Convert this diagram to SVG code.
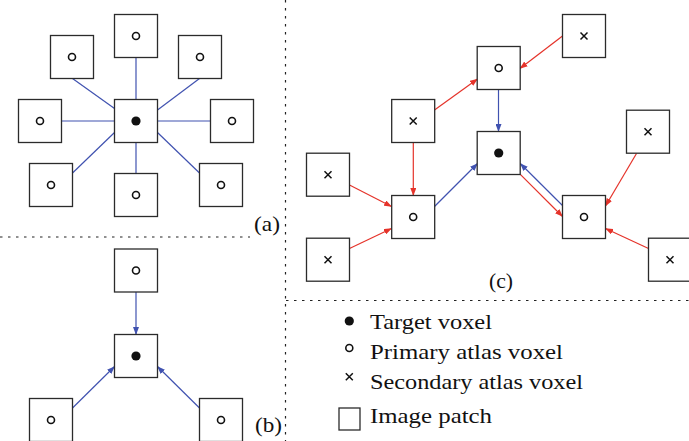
<svg xmlns="http://www.w3.org/2000/svg" width="689" height="441" viewBox="0 0 689 441">
<style>
.box{fill:#fff;stroke:#2b2b2b;stroke-width:1.3}
.oc{fill:#fff;stroke:#111;stroke-width:1.6}
.fd{fill:#111}
.xm{stroke:#111;stroke-width:1.5;fill:none}
.b{stroke:#4052b0;stroke-width:1.2;fill:none}
.r{stroke:#e5332a;stroke-width:1.2;fill:none}
.ba{stroke:#4052b0;stroke-width:1.2;fill:none;marker-end:url(#ab)}
.ra{stroke:#e5332a;stroke-width:1.2;fill:none;marker-end:url(#ar)}
.dot{stroke:#222;stroke-width:1.2;stroke-dasharray:2.5 5.5;fill:none}
.lbl{font-family:"Liberation Serif","DejaVu Serif",serif;font-size:21px;fill:#111}
.leg{font-family:"Liberation Serif","DejaVu Serif",serif;font-size:22px;fill:#111}
</style>
<defs>
<marker id="ab" markerUnits="userSpaceOnUse" markerWidth="8" markerHeight="6" refX="7.5" refY="3" orient="auto"><path d="M0,0 L8,3 L0,6 z" fill="#4052b0"/></marker>
<marker id="ar" markerUnits="userSpaceOnUse" markerWidth="8" markerHeight="6" refX="7.5" refY="3" orient="auto"><path d="M0,0 L8,3 L0,6 z" fill="#e5332a"/></marker>
<g id="pbox"><rect class="box" x="-21.5" y="-21.5" width="43" height="43"/><circle class="oc" cx="0" cy="0" r="3.5"/></g>
<g id="tbox"><rect class="box" x="-21.5" y="-21.5" width="43" height="43"/><circle class="fd" cx="0" cy="0" r="4.6"/></g>
<g id="sbox"><rect class="box" x="-21.5" y="-21.5" width="43" height="43"/><path class="xm" d="M-3.5,-3.5 L3.5,3.5 M-3.5,3.5 L3.5,-3.5"/></g>
</defs>
<rect width="689" height="441" fill="#fff"/>

<!-- separators -->
<g id="separators">
<line class="dot" x1="285.5" y1="0" x2="285.5" y2="441"/>
<line class="dot" x1="0" y1="237" x2="250" y2="237"/>
<line class="dot" x1="286" y1="300.5" x2="689" y2="300.5"/>
</g>

<!-- connectors -->
<g id="connectors">
<!-- (a) -->
<line class="b" x1="136" y1="57.5" x2="136" y2="99.5"/>
<line class="b" x1="72.5" y1="78.5" x2="114.5" y2="108.5"/>
<line class="b" x1="199.5" y1="78.5" x2="157.5" y2="110"/>
<line class="b" x1="61" y1="121" x2="114.5" y2="121"/>
<line class="b" x1="157.5" y1="121" x2="210.5" y2="121"/>
<line class="b" x1="72" y1="173.5" x2="114.5" y2="132.5"/>
<line class="b" x1="136" y1="142.5" x2="136" y2="173.5"/>
<line class="b" x1="200" y1="173.5" x2="157.5" y2="132.5"/>
<!-- (b) -->
<line class="ba" x1="136" y1="291.5" x2="136" y2="334.5"/>
<line class="ba" x1="72" y1="408.5" x2="114.5" y2="366.5"/>
<line class="ba" x1="200" y1="408.5" x2="157.5" y2="366.5"/>
<!-- (c) -->
<line class="ra" x1="562.5" y1="36" x2="520" y2="68.5"/>
<line class="ra" x1="434.5" y1="110" x2="477.5" y2="79"/>
<line class="ba" x1="498.5" y1="89.5" x2="498.5" y2="131.5"/>
<line class="ra" x1="413.3" y1="142.5" x2="413.3" y2="195.5"/>
<line class="ra" x1="349.5" y1="185" x2="391.5" y2="206.5"/>
<line class="ra" x1="349.5" y1="248.5" x2="391.5" y2="228.5"/>
<line class="ba" x1="434.5" y1="206.5" x2="477.5" y2="163.5"/>
<line class="ba" x1="562.5" y1="205.5" x2="520.3" y2="163.5"/>
<line class="ra" x1="520.3" y1="174.3" x2="562.5" y2="216.5"/>
<line class="ra" x1="636.5" y1="153.5" x2="605.5" y2="206"/>
<line class="ra" x1="648.5" y1="248.5" x2="605.5" y2="228.5"/>
</g>

<!-- panel (a) nodes -->
<g id="a_top"><use href="#pbox" x="136" y="36"/></g>
<g id="a_ul"><use href="#pbox" x="72" y="57"/></g>
<g id="a_ur"><use href="#pbox" x="200" y="57"/></g>
<g id="a_l"><use href="#pbox" x="40" y="121"/></g>
<g id="a_c"><use href="#tbox" x="136" y="121"/></g>
<g id="a_r"><use href="#pbox" x="232" y="121"/></g>
<g id="a_ll"><use href="#pbox" x="51" y="185"/></g>
<g id="a_b"><use href="#pbox" x="136" y="195"/></g>
<g id="a_lr"><use href="#pbox" x="221" y="185"/></g>
<text class="lbl" x="254" y="231" textLength="26" lengthAdjust="spacingAndGlyphs">(a)</text>

<!-- panel (b) nodes -->
<g id="b_top"><use href="#pbox" x="136" y="270.5"/></g>
<g id="b_c"><use href="#tbox" x="136" y="356"/></g>
<g id="b_ll"><use href="#pbox" x="51" y="420"/></g>
<g id="b_lr"><use href="#pbox" x="221" y="420"/></g>
<text class="lbl" x="255" y="432" textLength="27" lengthAdjust="spacingAndGlyphs">(b)</text>

<!-- panel (c) nodes -->
<g id="c_xtr"><use href="#sbox" x="584" y="36"/></g>
<g id="c_ot"><use href="#pbox" x="498.7" y="68"/></g>
<g id="c_xml"><use href="#sbox" x="413.2" y="121"/></g>
<g id="c_t"><use href="#tbox" x="498.7" y="153"/></g>
<g id="c_xr"><use href="#sbox" x="648" y="131.7"/></g>
<g id="c_xlt"><use href="#sbox" x="328" y="174.7"/></g>
<g id="c_ol"><use href="#pbox" x="413.2" y="217"/></g>
<g id="c_or"><use href="#pbox" x="584" y="217"/></g>
<g id="c_xlb"><use href="#sbox" x="328" y="259.7"/></g>
<g id="c_xrb"><use href="#sbox" x="670" y="259.7"/></g>
<text class="lbl" x="489" y="288" textLength="24" lengthAdjust="spacingAndGlyphs">(c)</text>

<!-- legend -->
<g id="legend">
<circle class="fd" cx="349.3" cy="321" r="4.6"/>
<text class="leg" x="370" y="329" textLength="122" lengthAdjust="spacingAndGlyphs">Target voxel</text>
<circle class="oc" cx="349.3" cy="348" r="3.5"/>
<text class="leg" x="370" y="358.5" textLength="193" lengthAdjust="spacingAndGlyphs">Primary atlas voxel</text>
<path class="xm" d="M345.8,373.2 L352.8,380.2 M345.8,380.2 L352.8,373.2"/>
<text class="leg" x="370" y="389" textLength="213" lengthAdjust="spacingAndGlyphs">Secondary atlas voxel</text>
<rect class="box" x="339" y="408" width="21" height="22"/>
<text class="leg" x="370" y="423" textLength="122" lengthAdjust="spacingAndGlyphs">Image patch</text>
</g>
</svg>
